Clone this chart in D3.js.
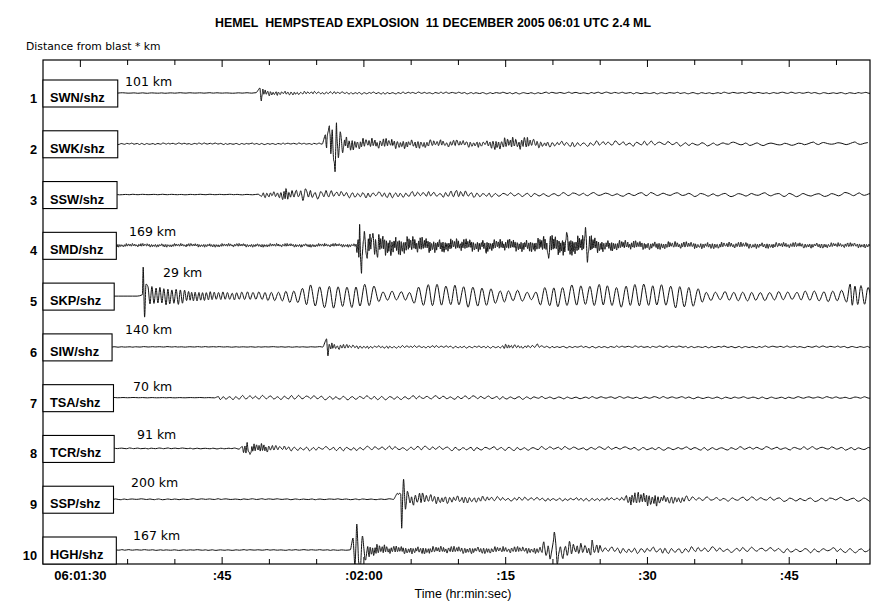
<!DOCTYPE html>
<html>
<head>
<meta charset="utf-8">
<script src="https://cdn.jsdelivr.net/npm/d3@7"></script>
<style>
  body { margin: 0; background: #fff; }
  svg { display: block; font-family: 'Liberation Sans', Arial, sans-serif; }
  .pre { white-space: pre; }
</style>
</head>
<body>
<div id="chart"></div>
<script>
// station channels, top to bottom
const stations = ['SWN/shz', 'SWK/shz', 'SSW/shz', 'SMD/shz', 'SKP/shz', 'SIW/shz', 'TSA/shz', 'TCR/shz', 'SSP/shz', 'HGH/shz'];
const distances = ['101 km', null, null, '169 km', '29 km', '140 km', '70 km', '91 km', '200 km', '167 km'];

// axis labels (seconds after 06:01:30)
const tickSeconds = [0, 15, 30, 45, 60, 75];
const tickLabels = ['06:01:30', ':45', ':02:00', ':15', ':30', ':45'];

// envelope: [seconds after 06:01:30, peak amplitude, dominant period (s)]
const envSWN = [[-4, 0.3, 1.0], [18.9, 0.3, 1.0], [19.0, 5, 0.25], [19.6, 3.5, 0.25], [20.5, 2.5, 0.3], [23, 1.8, 0.35], [28, 1.2, 0.45], [38, 0.9, 0.6], [50, 0.9, 0.8], [84, 0.8, 0.9]];
const envSWK = [[-4, 0.8, 0.55], [25.9, 0.8, 0.55], [26.0, 11, 0.25], [28, 9, 0.25], [29, 6, 0.3], [34, 5, 0.3], [38, 4, 0.35], [43, 3.5, 0.35], [44, 6, 0.3], [47, 7, 0.3], [49, 3.5, 0.4], [52, 3, 0.6], [60, 2.8, 0.8], [66, 2.2, 1.0], [72, 1.8, 1.4], [84, 1.8, 1.5]];
const envSSW = [[-4, 0.3, 1.0], [18.8, 0.3, 1.0], [19.0, 3, 0.4], [21.3, 3.5, 0.35], [21.6, 6.5, 0.25], [22.4, 4, 0.35], [23, 6, 0.5], [25, 5.5, 0.55], [27, 3.5, 0.55], [38, 3, 0.6], [40.5, 4.5, 0.5], [41.5, 3, 0.6], [45, 2.2, 0.8], [55, 2, 1.2], [84, 2.2, 1.5]];
const envSMD = [[-4, 1.8, 0.22], [29.2, 1.9, 0.22], [29.4, 12, 0.18], [33.5, 10, 0.2], [38, 7, 0.2], [44, 6, 0.2], [48, 6.5, 0.2], [49.5, 10, 0.18], [54, 10, 0.18], [55.5, 6, 0.2], [59, 4.5, 0.22], [65, 3.5, 0.25], [84, 2.5, 0.25]];
const envSKP = [[-4, 0, 1.0], [6.6, 0, 1.0], [6.7, 10, 0.4], [11, 8, 0.45], [11.5, 5, 0.35], [16, 4, 0.5], [20, 4.5, 0.7], [23, 7, 0.9], [24, 12, 0.95], [31, 12, 0.95], [32, 5, 0.95], [35, 5, 0.95], [36, 12, 0.95], [43, 11, 0.95], [44, 7, 0.95], [47, 6, 0.95], [48, 3, 0.95], [49, 11, 0.95], [58, 12, 0.95], [65, 12, 0.95], [66, 5, 0.95], [76, 4.5, 0.95], [78, 6, 0.95], [81, 6, 0.95], [81.5, 12, 0.5], [84, 10, 0.95]];
const envSIW = [[-4, 0.3, 0.8], [25.8, 0.3, 0.8], [25.9, 5, 0.25], [27, 3.5, 0.3], [28.5, 2.2, 0.35], [31, 1.5, 0.4], [40, 1.2, 0.5], [44.5, 1.2, 0.5], [44.7, 3, 0.3], [46.5, 1.8, 0.35], [50, 1, 0.6], [84, 0.9, 0.8]];
const envTSA = [[-4, 0.2, 1.0], [14.4, 0.2, 1.0], [14.5, 1.8, 0.5], [16, 2.3, 0.7], [25, 2.3, 0.8], [38, 2, 0.8], [47, 1.7, 0.8], [50, 1.2, 0.9], [84, 1, 1.0]];
const envTCR = [[-4, 0.5, 0.8], [16.8, 0.5, 0.8], [17, 4.5, 0.25], [19.5, 5, 0.25], [20.5, 3, 0.4], [24, 2.3, 0.7], [40, 2.3, 0.8], [55, 1.8, 0.9], [84, 1.8, 1.0]];
const envSSP = [[-4, 0.5, 0.9], [33.2, 0.5, 0.9], [33.3, 4, 0.3], [33.6, 8, 0.35], [35, 7.5, 0.4], [38, 4.5, 0.4], [42, 3.5, 0.45], [45, 2.3, 0.6], [50, 1.8, 0.6], [57.5, 1.8, 0.5], [58, 7, 0.3], [61, 7, 0.3], [61.5, 4.5, 0.35], [63.5, 4, 0.4], [66, 2.3, 0.9], [84, 2.3, 1.2]];
const envHGH = [[-4, 0.4, 0.8], [28.7, 0.4, 0.8], [28.8, 8, 0.35], [30, 8, 0.35], [30.4, 7, 0.25], [32, 5.5, 0.25], [33, 4, 0.25], [45, 3.5, 0.3], [48.5, 3.5, 0.3], [49, 10, 0.45], [51.5, 10, 0.45], [52.5, 7, 0.4], [54.5, 6, 0.4], [55.5, 3.5, 0.6], [65, 3.5, 0.7], [70, 2.8, 0.9], [84, 2.8, 1.0]];

// largest single excursions: [seconds after 06:01:30, amplitude, + is downward]
const spikesSWN = [[19.05, -5], [19.2, 8], [19.35, -4]];
const spikesSWK = [[26.2, -9], [26.4, -18], [26.55, 10], [26.7, -14], [26.85, 16], [27.0, 28], [27.15, -21], [27.35, 14], [27.55, -12], [27.8, 9]];
const spikesSSW = [[21.8, -6], [23.6, 6]];
const spikesSMD = [[29.6, -21], [29.8, 28], [30.1, -14], [30.4, 13], [31.0, -12], [31.5, 12], [43.0, 8], [49.6, 13], [51.5, -13], [53.5, -18], [53.7, 17]];
const spikesSKP = [[6.7, -29], [6.85, 21], [7.0, -12]];
const spikesSIW = [[26.1, -8], [26.25, 9], [48.4, -3]];
const spikesTSA = [];
const spikesTCR = [[17.7, -6], [18.0, 6]];
const spikesSSP = [[33.8, -6], [34.05, 29], [34.25, -20], [34.45, 10], [34.65, -8]];
const spikesHGH = [[28.9, -12], [29.1, 16], [29.3, -26], [29.5, 12], [29.7, 16], [29.9, -14], [30.2, 10], [50.2, -18], [50.5, 14], [54.2, -10]];

const envelopes = [envSWN, envSWK, envSSW, envSMD, envSKP, envSIW, envTSA, envTCR, envSSP, envHGH];
const spikes = [spikesSWN, spikesSWK, spikesSSW, spikesSMD, spikesSKP, spikesSIW, spikesTSA, spikesTCR, spikesSSP, spikesHGH];
// how irregular each wavetrain looks (SKP is a clean long-period ring)
const irregular = [0.9, 0.95, 0.8, 0.95, 0.35, 0.9, 0.75, 0.85, 0.85, 0.9];

// layout of the distance labels: x and baseline shift from trace
const distLayout = [[125, -7], null, null, [129, -9], [163, -19], [125, -13], [133, -7], [137, -9], [131, -12], [133, -10]];

const width = 896;
const height = 612;
const plot = { left: 43, top: 60, right: 870, bottom: 564 };

const base = Date.UTC(2005, 11, 11, 6, 1, 30);
const toDate = (s) => new Date(base + s * 1000);
const tStart = -3.9;
const tEnd = 83.6;

const x = d3.scaleUtc().domain([toDate(tStart), toDate(tEnd)]).range([plot.left, plot.right]);
const rowY = d3.scaleLinear().domain([0, 9]).range([93, 550]);
const amp = d3.scaleLinear().domain([-30, 30]).range([-30, 30]);

// fixed cycle-to-cycle shape pattern of the wavelets
const wobble = [1, 0.35, 0.6, 0.25, 0.85, 0.3, 0.5, 0.95, 0.4, 0.7, 0.2, 0.55, 0.45, 1, 0.3, 0.65, 0.4, 0.2, 0.8, 0.5, 0.35, 0.9, 0.45];
const stretch = [1, 0.7, 1.25, 0.9, 1.15, 0.8, 1.3, 0.95, 1.05, 0.75, 1.2];
const ripple = [0.3, -0.4, 0.1, 0.5, -0.2, 0.35, -0.5, 0.05, 0.45, -0.3, 0.2];

const envAt = (env, t) => {
  if (t <= env[0][0]) return { a: env[0][1], p: env[0][2] };
  for (let i = 1; i < env.length; i++) {
    if (t <= env[i][0]) {
      const [t0, a0, p0] = env[i - 1];
      const [t1, a1, p1] = env[i];
      const f = (t - t0) / (t1 - t0);
      return { a: a0 + f * (a1 - a0), p: p0 + f * (p1 - p0) };
    }
  }
  const last = env[env.length - 1];
  return { a: last[1], p: last[2] };
};

const wavetrain = (env, peaks, seed, irr) => {
  let ext = [];
  let t = tStart - 0.5;
  let k = 0;
  while (t <= tEnd + 0.5) {
    const e = envAt(env, t);
    const w = 1 - irr * (1 - wobble[(k + seed) % wobble.length]);
    ext.push([t, (k % 2 ? 1 : -1) * e.a * w, e.a]);
    const s = 1 + irr * (stretch[(k * 3 + seed) % stretch.length] - 1);
    t += (e.p / 2) * s;
    k++;
  }
  // drop carrier extremes that sit on a read spike, then put the spikes in
  ext = ext.filter((p) => !peaks.some(([ts]) => Math.abs(p[0] - ts) < 0.07));
  peaks.forEach(([ts, v]) => ext.push([ts, v, Math.abs(v)]));
  ext.sort((a, b) => a[0] - b[0]);
  // small riding ripples between the extremes
  const pts = [];
  ext.forEach((p, i) => {
    pts.push([p[0], p[1]]);
    const q = ext[i + 1];
    if (q && irr > 0.5) {
      const r = ripple[(i + seed) % ripple.length] * irr * 0.5 * Math.min(p[2], q[2]);
      pts.push([(p[0] + q[0]) / 2, (p[1] + q[1]) / 2 + r]);
    }
  });
  return pts;
};

const svg = d3.select('#chart').append('svg')
  .attr('width', width)
  .attr('height', height);

svg.append('rect').attr('width', width).attr('height', height).attr('fill', '#fff');

svg.append('defs').append('clipPath')
  .attr('id', 'clip')
  .append('rect')
  .attr('x', plot.left)
  .attr('y', plot.top)
  .attr('width', plot.right - plot.left)
  .attr('height', plot.bottom - plot.top);

// title
svg.append('text')
  .attr('class', 'pre')
  .attr('x', 433)
  .attr('y', 27)
  .attr('text-anchor', 'middle')
  .attr('font-weight', 'bold')
  .attr('font-size', 12.4)
  .attr('textLength', 436)
  .attr('lengthAdjust', 'spacing')
  .text('HEMEL  HEMPSTEAD EXPLOSION  11 DECEMBER 2005 06:01 UTC 2.4 ML');

svg.append('text')
  .attr('x', 26)
  .attr('y', 50)
  .attr('font-family', 'DejaVu Sans, sans-serif')
  .attr('font-size', 10.8)
  .text('Distance from blast * km');

// traces
const line = d3.line()
  .x((d) => x(toDate(d[0])))
  .y((d) => d[2] + amp(d[1]))
  .curve(d3.curveMonotoneX);

const traces = svg.append('g').attr('clip-path', 'url(#clip)');
stations.forEach((name, i) => {
  const y0 = rowY(i);
  const pts = wavetrain(envelopes[i], spikes[i], i * 5, irregular[i]).map((p) => [p[0], p[1], y0]);
  traces.append('path')
    .datum(pts)
    .attr('d', line)
    .attr('fill', 'none')
    .attr('stroke', '#111')
    .attr('stroke-width', 1);
});

// axes (ticks pointing inward)
const tickTimes = d3.utcSecond.every(5).range(toDate(0), toDate(81));
const isMajor = (d) => tickSeconds.includes(Math.round((d - base) / 1000));
const labelFor = (d) => {
  const idx = tickSeconds.indexOf(Math.round((d - base) / 1000));
  return idx >= 0 ? tickLabels[idx] : '';
};

const xAxis = d3.axisBottom(x).tickValues(tickTimes).tickSizeOuter(0).tickSizeInner(-5).tickPadding(7).tickFormat(labelFor);
const xAxisTop = d3.axisTop(x).tickValues(tickTimes).tickSizeOuter(0).tickSizeInner(-5).tickFormat(() => '');

const gx = svg.append('g').attr('transform', `translate(0,${plot.bottom})`).call(xAxis);
gx.select('.domain').remove();
gx.selectAll('.tick line').attr('y2', (d) => (isMajor(d) ? -7 : -5)).attr('stroke', '#000');
gx.selectAll('.tick text')
  .attr('font-family', 'Liberation Sans, Arial, sans-serif')
  .attr('font-size', 13)
  .attr('font-weight', 'bold')
  .attr('fill', '#000');

const gxt = svg.append('g').attr('transform', `translate(0,${plot.top})`).call(xAxisTop);
gxt.select('.domain').remove();
gxt.selectAll('.tick line').attr('y2', (d) => (isMajor(d) ? 7 : 5)).attr('stroke', '#000');

svg.append('text')
  .attr('x', 463)
  .attr('y', 598)
  .attr('text-anchor', 'middle')
  .attr('font-size', 12.5)
  .text('Time (hr:min:sec)');

// frame
svg.append('rect')
  .attr('x', plot.left)
  .attr('y', plot.top)
  .attr('width', plot.right - plot.left)
  .attr('height', plot.bottom - plot.top)
  .attr('fill', 'none')
  .attr('stroke', '#000')
  .attr('stroke-width', 1.2);

// station boxes, row numbers, distances
stations.forEach((name, i) => {
  const y0 = rowY(i);
  const g = svg.append('g');
  const box = g.append('rect')
    .attr('x', plot.left)
    .attr('y', y0 - 13)
    .attr('height', 27)
    .attr('fill', '#fff')
    .attr('stroke', '#000')
    .attr('stroke-width', 1.1);
  const label = g.append('text')
    .attr('x', plot.left + 7)
    .attr('y', y0 + 9)
    .attr('font-size', 12.8)
    .attr('font-weight', 'bold')
    .text(name);
  box.attr('width', label.node().getComputedTextLength() + 20);

  svg.append('text')
    .attr('x', 37)
    .attr('y', y0 + 10)
    .attr('text-anchor', 'end')
    .attr('font-size', 12.8)
    .attr('font-weight', 'bold')
    .text(i + 1);

  if (distances[i]) {
    svg.append('text')
      .attr('x', distLayout[i][0])
      .attr('y', y0 + distLayout[i][1])
      .attr('font-family', 'DejaVu Sans, sans-serif')
      .attr('font-size', 12.5)
      .text(distances[i]);
  }
});
</script>
</body>
</html>
